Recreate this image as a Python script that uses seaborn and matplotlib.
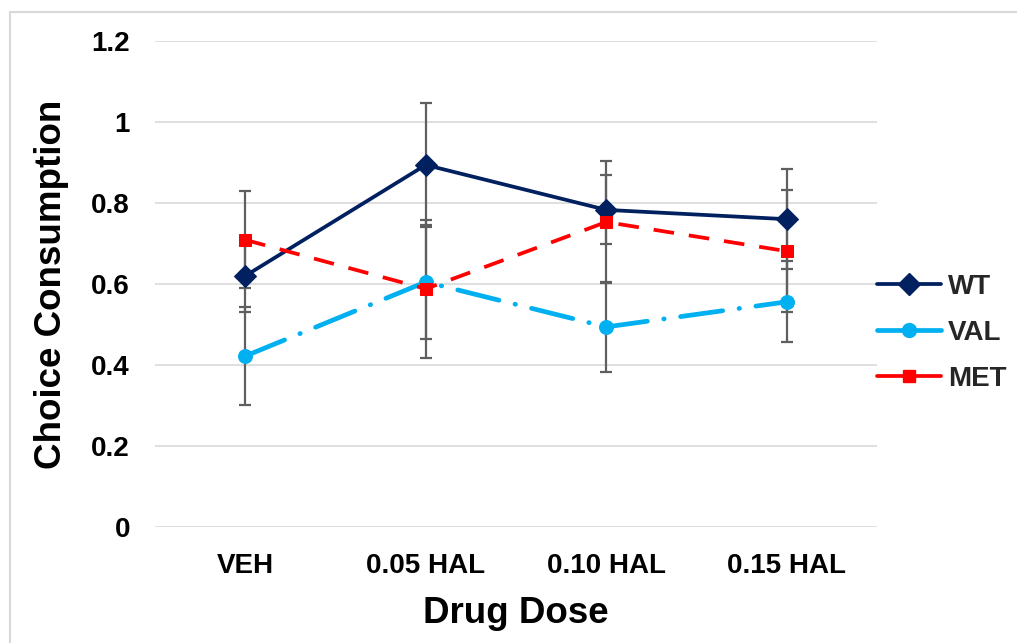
import matplotlib
matplotlib.use("Agg")
import matplotlib.pyplot as plt
import seaborn as sns
import pandas as pd
import numpy as np
from matplotlib.patches import Rectangle
from matplotlib.lines import Line2D

# ---- data ----
doses = ["VEH", "0.05 HAL", "0.10 HAL", "0.15 HAL"]
wt = [0.62, 0.894, 0.783, 0.760]
val = [0.422, 0.605, 0.494, 0.556]
met = [0.709, 0.588, 0.753, 0.681]
wt_err = [0.09, 0.153, 0.085, 0.124]
val_err = [0.12, 0.14, 0.111, 0.10]
met_err = [0.12, 0.17, 0.150, 0.15]
groups = ["WT", "VAL", "MET"]
y_ticks = [0, 0.2, 0.4, 0.6, 0.8, 1.0, 1.2]
y_tick_labels = ["0", "0.2", "0.4", "0.6", "0.8", "1", "1.2"]

values = {"WT": wt, "VAL": val, "MET": met}
errors = {"WT": wt_err, "VAL": val_err, "MET": met_err}

df = pd.DataFrame({
    "Drug Dose": doses * 3,
    "Choice Consumption": wt + val + met,
    "Group": [g for g in groups for _ in doses],
})

colors = {"WT": "#002060", "VAL": "#00B0F0", "MET": "#FF0000"}
markers = {"WT": "D", "VAL": "o", "MET": "s"}
msizes = {"WT": 11.5, "VAL": 10, "MET": 9}
lws = {"WT": 2.7, "VAL": 3.4, "MET": 2.7}
dash_styles = {"WT": "", "VAL": (9, 3.5, 0.1, 3.5), "MET": (5.5, 4)}

sns.set_theme(style="white")
plt.rcParams["font.family"] = ["Liberation Sans", "DejaVu Sans"]
plt.rcParams["font.weight"] = "bold"

fig = plt.figure(figsize=(10.17, 6.43), dpi=100)
ax = fig.add_axes([155 / 1017, 1 - 527 / 643, (877 - 155) / 1017, (527 - 41) / 643])

# error bars first (behind lines)
for g in groups:
    ax.errorbar(doses, values[g], yerr=errors[g], fmt="none",
                ecolor="#5F5F5F", elinewidth=1.6, capsize=4, capthick=1.6,
                zorder=2)

sns.lineplot(data=df, x="Drug Dose", y="Choice Consumption", hue="Group",
             palette=colors, ax=ax, legend=False, sort=False, zorder=3)

# style each line
for line, g in zip(ax.lines[-3:], groups):
    line.set_linewidth(lws[g])
    line.set_marker(markers[g])
    line.set_markersize(msizes[g])
    line.set_markerfacecolor(colors[g])
    line.set_markeredgecolor(colors[g])
    line.set_zorder(3)
    if g == "VAL":
        line.set_dashes(dash_styles[g])
        line.set_dash_capstyle("round")
    elif g == "MET":
        line.set_dashes(dash_styles[g])
        line.set_dash_capstyle("butt")
    else:
        line.set_linestyle("-")

ax.set_xlim(-0.5, 3.5)
ax.set_ylim(0, 1.2)
ax.set_yticks(y_ticks)
ax.set_yticklabels(y_tick_labels)
ax.yaxis.grid(True, color="#D9D9D9", linewidth=1.2)
ax.xaxis.grid(False)
ax.set_axisbelow(True)
for s in ax.spines.values():
    s.set_visible(False)
ax.tick_params(axis="both", length=0, labelsize=20)
ax.tick_params(axis="y", pad=18)
ax.tick_params(axis="x", pad=19)
for t in ax.get_xticklabels() + ax.get_yticklabels():
    t.set_fontweight("bold")
    t.set_color("black")

ax.set_xlabel("Drug Dose", fontsize=26.5, fontweight="bold", labelpad=12, color="black")
ax.set_ylabel("Choice Consumption", fontsize=26.5, fontweight="bold", labelpad=16, color="black")

# legend
handles = []
for g in groups:
    h = Line2D([0], [0], color=colors[g], lw=lws[g], marker=markers[g],
               markersize=msizes[g], markerfacecolor=colors[g],
               markeredgecolor=colors[g])
    handles.append(h)
leg = ax.legend(handles, groups, loc="center left", bbox_to_anchor=(1.0, 0.40),
                frameon=False, borderaxespad=0, borderpad=0,
                handlelength=2.3, handletextpad=0.25, labelspacing=0.72,
                prop={"size": 20, "weight": "bold"})

# outer chart border
fig.patches.append(Rectangle((10 / 1017, -0.2), 1.2, 1 - 12 / 643 + 0.2,
                             transform=fig.transFigure, fill=False,
                             edgecolor="#D9D9D9", linewidth=1.5))

fig.savefig("out.png", dpi=100)
